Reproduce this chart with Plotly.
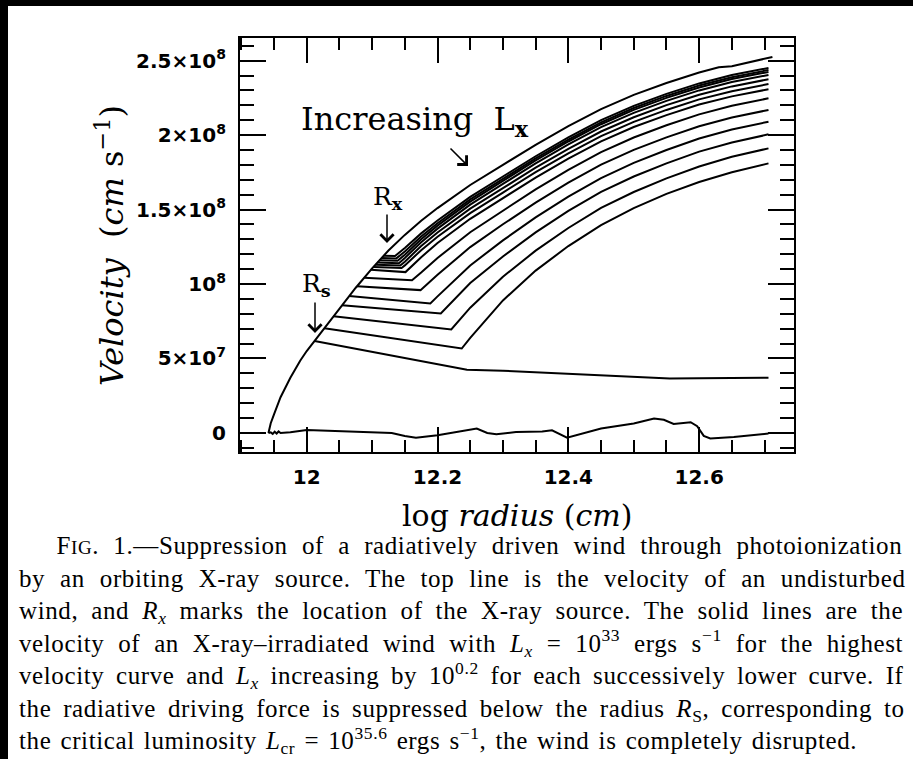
import re
import plotly.graph_objects as go

# ---------------- tick labels ----------------
x_tick_vals = [12.0, 12.2, 12.4, 12.6]
x_tick_text = ["12", "12.2", "12.4", "12.6"]
y_tick_vals = [0.0, 0.5, 1.0, 1.5, 2.0, 2.5]          # velocity in units of 1e8 cm/s
y_tick_text = ["0", "5×10<sup>7</sup>", "10<sup>8</sup>", "1.5×10<sup>8</sup>",
               "2×10<sup>8</sup>", "2.5×10<sup>8</sup>"]

# ---------------- undisturbed wind (top line) ----------------
undisturbed_logr = [11.9415, 11.945, 11.95, 11.96, 11.975, 11.99, 12.0, 12.015, 12.03, 12.05,
                    12.075, 12.1, 12.125, 12.15, 12.175, 12.2, 12.25, 12.3, 12.35, 12.4,
                    12.45, 12.5, 12.55, 12.6, 12.63, 12.65, 12.68, 12.706, 12.712]
undisturbed_vel = [0.0, 0.065, 0.125, 0.24, 0.37, 0.485, 0.55, 0.635, 0.72, 0.835,
                   0.975, 1.105, 1.225, 1.33, 1.425, 1.51, 1.665, 1.8, 1.935, 2.06,
                   2.175, 2.27, 2.35, 2.42, 2.455, 2.462, 2.495, 2.523, 2.525]

# ---------------- X-ray irradiated winds, log Lx = 33.0 ... 35.4 ----------------
lx330_logr = [12.118, 12.135, 12.15, 12.175, 12.2, 12.25, 12.3, 12.35, 12.4, 12.45, 12.5, 12.55, 12.6, 12.65, 12.706]
lx330_vel = [1.19, 1.188, 1.242, 1.34, 1.427, 1.585, 1.722, 1.858, 1.984, 2.10, 2.196, 2.277, 2.347, 2.403, 2.451]
lx332_logr = [12.115, 12.137, 12.15, 12.175, 12.2, 12.25, 12.3, 12.35, 12.4, 12.45, 12.5, 12.55, 12.6, 12.65, 12.706]
lx332_vel = [1.175, 1.172, 1.218, 1.319, 1.408, 1.568, 1.706, 1.843, 1.97, 2.086, 2.182, 2.263, 2.333, 2.389, 2.437]
lx334_logr = [12.111, 12.139, 12.15, 12.175, 12.2, 12.25, 12.3, 12.35, 12.4, 12.45, 12.5, 12.55, 12.6, 12.65, 12.706]
lx334_vel = [1.16, 1.156, 1.197, 1.301, 1.392, 1.553, 1.692, 1.83, 1.957, 2.073, 2.169, 2.25, 2.32, 2.376, 2.424]
lx336_logr = [12.108, 12.141, 12.15, 12.175, 12.2, 12.25, 12.3, 12.35, 12.4, 12.45, 12.5, 12.55, 12.6, 12.65, 12.706]
lx336_vel = [1.144, 1.14, 1.175, 1.28, 1.372, 1.533, 1.672, 1.81, 1.937, 2.053, 2.149, 2.23, 2.30, 2.356, 2.404]
lx338_logr = [12.105, 12.143, 12.15, 12.175, 12.2, 12.25, 12.3, 12.35, 12.4, 12.45, 12.5, 12.55, 12.6, 12.65, 12.706]
lx338_vel = [1.129, 1.124, 1.15, 1.255, 1.346, 1.506, 1.644, 1.781, 1.908, 2.024, 2.12, 2.201, 2.271, 2.327, 2.375]
lx340_logr = [12.102, 12.145, 12.15, 12.175, 12.2, 12.25, 12.3, 12.35, 12.4, 12.45, 12.5, 12.55, 12.6, 12.65, 12.706]
lx340_vel = [1.115, 1.108, 1.125, 1.227, 1.317, 1.476, 1.614, 1.751, 1.877, 1.993, 2.089, 2.169, 2.24, 2.295, 2.343]
lx342_logr = [12.098, 12.151, 12.175, 12.2, 12.25, 12.3, 12.35, 12.4, 12.45, 12.5, 12.55, 12.6, 12.65, 12.706]
lx342_vel = [1.095, 1.08, 1.18, 1.275, 1.438, 1.578, 1.715, 1.842, 1.958, 2.054, 2.134, 2.205, 2.26, 2.308]
lx344_logr = [12.088, 12.161, 12.175, 12.2, 12.25, 12.3, 12.35, 12.4, 12.45, 12.5, 12.55, 12.6, 12.65, 12.706]
lx344_vel = [1.042, 1.025, 1.077, 1.175, 1.348, 1.494, 1.636, 1.767, 1.886, 1.984, 2.066, 2.139, 2.197, 2.247]
lx346_logr = [12.077, 12.174, 12.2, 12.25, 12.3, 12.35, 12.4, 12.45, 12.5, 12.55, 12.6, 12.65, 12.706]
lx346_vel = [0.985, 0.959, 1.062, 1.248, 1.401, 1.547, 1.681, 1.802, 1.901, 1.985, 2.059, 2.118, 2.169]
lx348_logr = [12.065, 12.189, 12.2, 12.25, 12.3, 12.35, 12.4, 12.45, 12.5, 12.55, 12.6, 12.65, 12.706]
lx348_vel = [0.919, 0.87, 0.917, 1.125, 1.293, 1.447, 1.587, 1.711, 1.813, 1.90, 1.977, 2.037, 2.09]
lx350_logr = [12.054, 12.205, 12.25, 12.3, 12.35, 12.4, 12.45, 12.5, 12.55, 12.6, 12.65, 12.706]
lx350_vel = [0.857, 0.802, 1.007, 1.185, 1.347, 1.491, 1.619, 1.722, 1.81, 1.889, 1.95, 2.005]
lx352_logr = [12.041, 12.221, 12.25, 12.3, 12.35, 12.4, 12.45, 12.5, 12.55, 12.6, 12.65, 12.706]
lx352_vel = [0.783, 0.695, 0.841, 1.049, 1.224, 1.376, 1.511, 1.618, 1.709, 1.789, 1.854, 1.911]
lx354_logr = [12.027, 12.237, 12.25, 12.3, 12.35, 12.4, 12.45, 12.5, 12.55, 12.6, 12.65, 12.706]
lx354_vel = [0.703, 0.567, 0.639, 0.89, 1.09, 1.255, 1.395, 1.51, 1.605, 1.685, 1.75, 1.81]

# ---------------- critical luminosity (disrupted wind), log Lx = 35.6 ----------------
disrupted_logr = [12.012, 12.13, 12.2, 12.245, 12.3, 12.342, 12.45, 12.555, 12.6, 12.706]
disrupted_vel = [0.618, 0.52, 0.462, 0.425, 0.418, 0.41, 0.388, 0.366, 0.367, 0.371]

# ---------------- completely disrupted (near-zero) wind ----------------
zero_logr = [11.9415, 11.945, 11.948, 11.951, 11.954, 11.957, 11.96, 11.975, 12.0, 12.05,
             12.1, 12.13, 12.15, 12.167, 12.2, 12.24, 12.26, 12.276, 12.29, 12.32,
             12.36, 12.375, 12.388, 12.398, 12.45, 12.5, 12.531, 12.546, 12.561, 12.587,
             12.597, 12.607, 12.617, 12.653, 12.706]
zero_vel = [0.0, 0.004, -0.006, 0.008, -0.004, 0.01, 0.0, 0.005, 0.02, 0.012,
            0.005, 0.0, -0.02, -0.032, -0.015, 0.013, 0.03, 0.0, -0.008, 0.006,
            0.01, 0.018, -0.012, -0.032, 0.03, 0.063, 0.097, 0.088, 0.06, 0.072,
            0.045, -0.02, -0.037, -0.027, -0.004]

family = [(lx330_logr, lx330_vel), (lx332_logr, lx332_vel), (lx334_logr, lx334_vel),
          (lx336_logr, lx336_vel), (lx338_logr, lx338_vel), (lx340_logr, lx340_vel),
          (lx342_logr, lx342_vel), (lx344_logr, lx344_vel), (lx346_logr, lx346_vel),
          (lx348_logr, lx348_vel), (lx350_logr, lx350_vel), (lx352_logr, lx352_vel),
          (lx354_logr, lx354_vel)]

# ---------------- layout geometry (pixels) ----------------
W, H = 913, 759
PL, PR, PT, PB = 240, 794, 38, 452


def fx(px):
    return (px - PL) / (PR - PL)


def fy(py):
    return (PB - py) / (PB - PT)


LINE = dict(color="black", width=2.0)
SERIF = "DejaVu Serif"
TIMES = "Liberation Serif, Times New Roman, serif"
SANS = "DejaVu Sans, sans-serif"

fig = go.Figure()
fig.add_trace(go.Scatter(x=undisturbed_logr, y=undisturbed_vel, mode="lines", line=LINE,
                         hoverinfo="skip", showlegend=False))
for xs, vs in family:
    fig.add_trace(go.Scatter(x=xs, y=vs, mode="lines", line=LINE, hoverinfo="skip", showlegend=False))
fig.add_trace(go.Scatter(x=disrupted_logr, y=disrupted_vel, mode="lines", line=LINE,
                         hoverinfo="skip", showlegend=False))
fig.add_trace(go.Scatter(x=zero_logr, y=zero_vel, mode="lines", line=LINE,
                         hoverinfo="skip", showlegend=False))

axis_common = dict(showgrid=False, zeroline=False, showline=True, linecolor="black", linewidth=2.2,
                   mirror="ticks", ticks="inside", tickcolor="black", tickwidth=1.7,
                   tickfont=dict(family=SANS, size=20, color="black"))

fig.update_xaxes(range=[11.898, 12.745], tickmode="array", tickvals=x_tick_vals,
                 ticktext=["<b>%s</b>" % t for t in x_tick_text], ticklen=25,
                 ticklabelstandoff=6,
                 minor=dict(tickmode="linear", tick0=11.9, dtick=0.05, ticks="inside",
                            ticklen=12, tickwidth=1.7, tickcolor="black", showgrid=False),
                 **axis_common)
fig.update_yaxes(range=[-0.128, 2.652], tickmode="array", tickvals=y_tick_vals,
                 ticktext=["<b>%s</b>" % t for t in y_tick_text], ticklen=26,
                 ticklabelstandoff=8,
                 minor=dict(tickmode="linear", tick0=0, dtick=0.1, ticks="inside",
                            ticklen=14, tickwidth=1.7, tickcolor="black", showgrid=False),
                 **axis_common)

ann = []
# axis titles
ann.append(dict(text="log <i>radius</i> (<i>cm</i>)", x=fx(517), y=fy(515), xref="paper", yref="paper",
                showarrow=False, xanchor="center", yanchor="middle",
                font=dict(family=SERIF, size=30, color="black")))
ann.append(dict(text="<i>Velocity</i>\u00a0\u00a0(<i>cm</i> s<sup>−1</sup>)", x=fx(110), y=fy(246),
                xref="paper", yref="paper", showarrow=False, textangle=-90,
                xanchor="center", yanchor="middle",
                font=dict(family=SERIF, size=32, color="black")))
# in-plot labels
ann.append(dict(text="Increasing\u00a0\u00a0L<sub><b>x</b></sub>", x=fx(299), y=fy(121),
                xref="paper", yref="paper", showarrow=False, xanchor="left", yanchor="middle",
                font=dict(family=SERIF, size=32, color="black")))
ann.append(dict(text="R<sub><b>x</b></sub>", x=fx(388), y=fy(198), xref="paper", yref="paper",
                showarrow=False, xanchor="center", yanchor="middle",
                font=dict(family=SERIF, size=25, color="black")))
ann.append(dict(text="R<sub><b>s</b></sub>", x=fx(316), y=fy(285), xref="paper", yref="paper",
                showarrow=False, xanchor="center", yanchor="middle",
                font=dict(family=SERIF, size=25, color="black")))
# arrows
for (hx, hy, dx, dy) in [(387, 243, 0, -30), (315, 333, 0, -32), (468, 166, -19, -19)]:
    ann.append(dict(text="", x=fx(hx), y=fy(hy), xref="paper", yref="paper", showarrow=True,
                    ax=dx, ay=dy, arrowhead=4, arrowsize=1.7, arrowwidth=1.5, arrowcolor="black",
                    standoff=0, startstandoff=0))

# ---------------- caption (justified) ----------------
TW = {' ': 250, '\u00a0': 250, '!': 333, '(': 333, ')': 333, ',': 250, '-': 333, '.': 250, '/': 278,
      ':': 278, ';': 278, '=': 564, '?': 444, '–': 500, '—': 1000, '−': 564,
      'A': 722, 'B': 667, 'C': 667, 'D': 722, 'E': 611, 'F': 556, 'G': 722, 'H': 722, 'I': 333,
      'J': 389, 'K': 722, 'L': 611, 'M': 889, 'N': 722, 'O': 722, 'P': 556, 'Q': 722, 'R': 667,
      'S': 556, 'T': 611, 'U': 722, 'V': 722, 'W': 944, 'X': 722, 'Y': 722, 'Z': 611,
      'a': 444, 'b': 500, 'c': 444, 'd': 500, 'e': 444, 'f': 333, 'g': 500, 'h': 500, 'i': 278,
      'j': 278, 'k': 500, 'l': 278, 'm': 778, 'n': 500, 'o': 500, 'p': 500, 'q': 500, 'r': 333,
      's': 389, 't': 278, 'u': 500, 'v': 500, 'w': 722, 'x': 500, 'y': 500, 'z': 444}
for d in "0123456789":
    TW[d] = 500


def measure(html, base, ls):
    """Return (width_px, n_spaces) of plotly-style markup at font size base with letter spacing ls."""
    width, spaces, stack = 0.0, 0, [1.0]
    for part in re.split(r"(<[^>]+>)", html):
        if not part:
            continue
        if part.startswith("<"):
            tag = part.strip("</> ").split()[0].lower()
            if part.startswith("</"):
                if tag in ("sub", "sup", "span") and len(stack) > 1:
                    stack.pop()
            elif tag in ("sub", "sup"):
                stack.append(stack[-1] * 0.7)
            elif tag == "span":
                m = re.search(r"font-size:\s*([\d.]+)px", part)
                stack.append(float(m.group(1)) / base if m else stack[-1])
        else:
            for ch in part:
                width += TW.get(ch, 500) / 1000.0 * stack[-1] * base + ls
                if ch == " " and stack[-1] == 1.0:
                    spaces += 1
    return width, spaces


CAP_FS = 25
SC = 19
LS = 0.6
cap_lines = [
    "F<span style=\"font-size:%dpx\">IG</span>. 1.—Suppression of a radiatively driven wind through photoionization" % SC,
    "by an orbiting X-ray source. The top line is the velocity of an undisturbed",
    "wind, and <i>R</i><sub><i>x</i></sub> marks the location of the X-ray source. The solid lines are the",
    "velocity of an X-ray–irradiated wind with <i>L</i><sub><i>x</i></sub> = 10<sup>33</sup> ergs s<sup>−1</sup> for the highest",
    "velocity curve and <i>L</i><sub><i>x</i></sub> increasing by 10<sup>0.2</sup> for each successively lower curve. If",
    "the radiative driving force is suppressed below the radius <i>R</i><sub>S</sub>, corresponding to",
    "the critical luminosity <i>L</i><sub>cr</sub> = 10<sup>35.6</sup> ergs s<sup>−1</sup>, the wind is completely disrupted.",
]
CAP_LEFT = 18
CAP_RIGHTS = [905, 905, 905, 905, 905, 905, 858]
INDENT = 42
n_indent = int(round(INDENT / (0.25 * CAP_FS + LS)))
parts = []
for i, txt in enumerate(cap_lines):
    body = ("\u00a0" * n_indent + txt) if i == 0 else txt
    w, n = measure(body, CAP_FS, LS)
    extra = max((CAP_RIGHTS[i] - CAP_LEFT - w) / max(n, 1), -2.0)
    pre = "\u00a0" * n_indent if i == 0 else ""
    parts.append(pre + "<span style=\"word-spacing:%.2fpx;letter-spacing:%.2fpx\">%s</span>"
                 % (extra, LS, txt))
cap_top = 548 - 0.66 * CAP_FS - 1
ann.append(dict(text="<br>".join(parts), x=fx(CAP_LEFT), y=fy(cap_top),
                xref="paper", yref="paper", showarrow=False, xanchor="left", yanchor="top",
                align="left", borderpad=0, font=dict(family=TIMES, size=CAP_FS, color="black")))

# black scanner border
shapes = [
    dict(type="rect", xref="paper", yref="paper", x0=fx(0), x1=fx(W), y0=fy(0), y1=fy(6),
         fillcolor="black", line=dict(width=0), layer="below"),
    dict(type="rect", xref="paper", yref="paper", x0=fx(0), x1=fx(8), y0=fy(0), y1=fy(H),
         fillcolor="black", line=dict(width=0), layer="below"),
]

fig.update_layout(width=W, height=H, autosize=False,
                  margin=dict(l=PL, r=W - PR, t=PT, b=H - PB, pad=0),
                  paper_bgcolor="white", plot_bgcolor="white",
                  annotations=ann, shapes=shapes, showlegend=False)

fig.write_html("out.html", include_plotlyjs=True, config={"displayModeBar": False})
